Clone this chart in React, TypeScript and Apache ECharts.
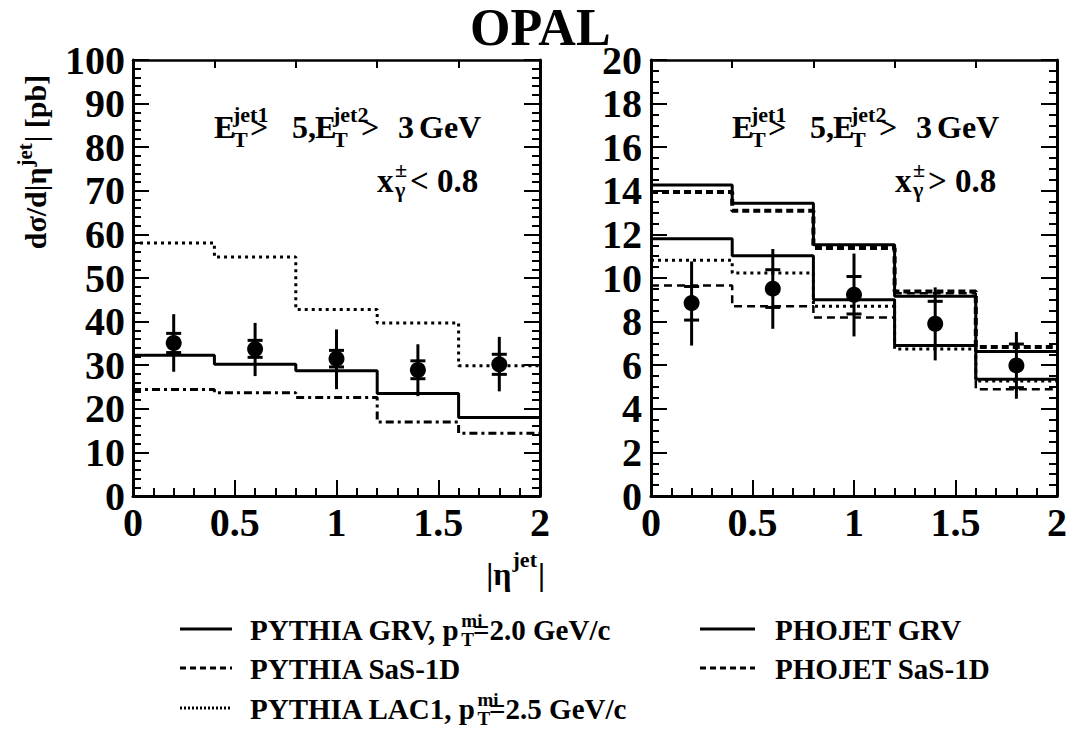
import { useEffect, useRef } from 'react';
import * as echarts from 'echarts';

// ---------------- data ----------------
const binEdges = [0, 0.4, 0.8, 1.2, 1.6, 2.0];
const binCenters = [0.2, 0.6, 1.0, 1.4, 1.8];

// left panel: x_gamma < 0.8
const leftPythiaGrv = [32.3, 30.2, 28.7, 23.5, 18.0];
const leftPythiaSas = [24.4, 23.7, 22.6, 17.0, 14.4];
const leftPythiaLac = [58.0, 54.8, 42.8, 39.7, 29.9];
const leftData = [35.1, 33.7, 31.5, 28.9, 30.2];
const leftStatLow = [32.9, 31.8, 29.6, 26.9, 27.9];
const leftStatHigh = [37.3, 35.7, 33.4, 31.0, 32.5];
const leftTotLow = [28.5, 27.5, 24.5, 22.9, 24.0];
const leftTotHigh = [41.7, 39.7, 38.2, 34.8, 36.5];

// right panel: x_gamma > 0.8
const rightPhojetGrv = [14.27, 13.43, 11.52, 9.16, 6.63];
const rightPhojetSas = [13.95, 13.09, 11.38, 9.38, 6.83];
const rightPythiaGrv = [11.8, 11.02, 9.0, 6.9, 5.36];
const rightPythiaSas = [9.66, 8.7, 8.19, 9.3, 4.9];
const rightPythiaLac = [10.81, 10.23, 8.7, 6.74, 5.27];
const rightData = [8.85, 9.51, 9.23, 7.9, 5.99];
const rightStatLow = [8.07, 8.65, 8.35, 6.9, 4.97];
const rightStatHigh = [9.61, 10.38, 10.07, 8.93, 6.97];
const rightTotLow = [6.9, 7.67, 7.32, 6.22, 4.46];
const rightTotHigh = [10.76, 11.33, 11.12, 9.57, 7.52];

const modelNames = ['PYTHIA GRV', 'PYTHIA SaS-1D', 'PYTHIA LAC1', 'PHOJET GRV', 'PHOJET SaS-1D'];
const legendTexts = [
  { main: 'PYTHIA GRV, p', sup: 'mi', sub: 'T', tail: '=2.0 GeV/c' },
  { main: 'PYTHIA SaS-1D' },
  { main: 'PYTHIA LAC1, p', sup: 'mi', sub: 'T', tail: '=2.5 GeV/c' },
  { main: 'PHOJET GRV' },
  { main: 'PHOJET SaS-1D' },
];
const cutTexts = ['< 0.8', '> 0.8'];

// ---------------- styling ----------------
const FONT = 'Liberation Serif, Times New Roman, serif';
const BLACK = '#000';

const styleSolid = { color: BLACK, width: 3, type: 'solid' as any };
const styleDashDot = { color: BLACK, width: 3, type: [8, 4, 3, 4] as any };
const styleDashThin = { color: BLACK, width: 2.5, type: [8, 5] as any };
const styleDotted = { color: BLACK, width: 3, type: [3, 4] as any };
const styleDashThick = { color: BLACK, width: 4, type: [7, 4] as any };

let measureCtx: CanvasRenderingContext2D | null = null;
function tw(t: string, s: number) {
  if (!measureCtx) measureCtx = document.createElement('canvas').getContext('2d');
  measureCtx!.font = `bold ${s}px ${FONT}`;
  return measureCtx!.measureText(t).width;
}

function txt(text: string, x: number, baseline: number, size: number) {
  return {
    type: 'text',
    x,
    y: baseline - 0.34 * size,
    silent: true,
    style: {
      text,
      font: `bold ${size}px ${FONT}`,
      fill: BLACK,
      textAlign: 'left',
      textVerticalAlign: 'middle',
    },
  };
}

function stepData(vals: number[]) {
  const d = vals.map((v, i) => [binEdges[i], v]);
  d.push([binEdges[binEdges.length - 1], vals[vals.length - 1]]);
  return d;
}

function stepSeries(name: string, vals: number[], ax: number, lineStyle: any) {
  return {
    name,
    type: 'line',
    step: 'end',
    xAxisIndex: ax,
    yAxisIndex: ax,
    data: stepData(vals),
    symbol: 'none',
    showSymbol: false,
    lineStyle,
    silent: true,
    z: 2,
  };
}

function errorSeries(ax: number, totLo: number[], totHi: number[], stLo: number[], stHi: number[]) {
  return {
    type: 'custom',
    xAxisIndex: ax,
    yAxisIndex: ax,
    silent: true,
    z: 3,
    encode: { x: 0, y: [1, 2, 3, 4] },
    data: binCenters.map((x, i) => [x, totLo[i], totHi[i], stLo[i], stHi[i]]),
    renderItem: (_p: any, api: any) => {
      const x = api.value(0);
      const a = api.coord([x, api.value(1)]);
      const b = api.coord([x, api.value(2)]);
      const c = api.coord([x, api.value(3)]);
      const d = api.coord([x, api.value(4)]);
      const st = { stroke: BLACK, lineWidth: 3 };
      return {
        type: 'group',
        children: [
          { type: 'line', shape: { x1: a[0], y1: a[1], x2: b[0], y2: b[1] }, style: st },
          { type: 'line', shape: { x1: c[0] - 7.5, y1: c[1], x2: c[0] + 7.5, y2: c[1] }, style: st },
          { type: 'line', shape: { x1: d[0] - 7.5, y1: d[1], x2: d[0] + 7.5, y2: d[1] }, style: st },
        ],
      };
    },
  };
}

function pointSeries(ax: number, vals: number[]) {
  return {
    name: 'OPAL data',
    type: 'scatter',
    xAxisIndex: ax,
    yAxisIndex: ax,
    data: binCenters.map((x, i) => [x, vals[i]]),
    symbol: 'circle',
    symbolSize: 16,
    itemStyle: { color: BLACK, opacity: 1 },
    silent: true,
    z: 4,
  };
}

const axisLine = { show: true, onZero: false, lineStyle: { color: BLACK, width: 3 } };
const labelStyle = { fontFamily: FONT, fontWeight: 'bold', fontSize: 40, color: BLACK };

function xBottom(grid: number) {
  return {
    type: 'value', gridIndex: grid, position: 'bottom', min: 0, max: 2, interval: 0.5,
    axisLine,
    axisTick: { show: true, inside: true, length: 16, lineStyle: { color: BLACK, width: 2 } },
    minorTick: { show: true, splitNumber: 5, length: 8, lineStyle: { color: BLACK, width: 2 } },
    splitLine: { show: false },
    axisLabel: { ...labelStyle, margin: 6, formatter: (v: number) => String(v) },
  };
}
function xTop(grid: number) {
  return {
    type: 'value', gridIndex: grid, position: 'top', min: 0, max: 2, interval: 0.4,
    axisLine: { ...axisLine, lineStyle: { color: BLACK, width: 2.5 } },
    axisTick: { show: true, inside: true, length: 8, lineStyle: { color: BLACK, width: 2 } },
    splitLine: { show: false },
    axisLabel: { show: false },
  };
}
function yAxis(grid: number, pos: string, max: number, interval: number, minor: number, labels: boolean, margin: number) {
  return {
    type: 'value', gridIndex: grid, position: pos, min: 0, max, interval,
    axisLine,
    axisTick: { show: true, inside: true, length: 16, lineStyle: { color: BLACK, width: 2 } },
    minorTick: { show: true, splitNumber: minor, length: 8, lineStyle: { color: BLACK, width: 2 } },
    splitLine: { show: false },
    axisLabel: labels ? { ...labelStyle, margin } : { show: false },
  };
}

// ---- annotation builders ----
function etLabel(x0: number) {
  const M = 32, S = 22, base = 138, supB = 122, subB = 147;
  return [
    txt('E', x0 + 81, base, M),
    txt('jet1', x0 + 100, supB, S),
    txt('T', x0 + 100, subB, S),
    txt('>', x0 + 117, base, M),
    txt('5,', x0 + 159, base, M),
    txt('E', x0 + 182, base, M),
    txt('jet2', x0 + 200, supB, S),
    txt('T', x0 + 200, subB, S),
    txt('>', x0 + 228, base, M),
    txt('3', x0 + 265, base, M),
    txt('GeV', x0 + 286, base, M),
  ];
}
function xgLabel(x0: number, cut: string) {
  const M = 33, S = 22, base = 192;
  return [
    txt('x', x0 + 244, base, M),
    txt('±', x0 + 262, 177, S),
    txt('γ', x0 + 262, 197, S),
    txt(cut, x0 + 277, base, M),
  ];
}
function yTitle() {
  const M = 30, S = 21;
  const p1 = 'dσ/d|η', p2 = 'jet', p3 = '| [pb]';
  const w1 = tw(p1, M), w2 = tw(p2, S), w3 = tw(p3, M);
  const total = w1 + w2 + w3 + 2;
  return {
    type: 'group',
    x: 46,
    y: 162 + total / 2,
    rotation: Math.PI / 2,
    silent: true,
    children: [
      txt(p1, 0, 0, M),
      txt(p2, w1 + 1, -14, S),
      txt(p3, w1 + w2 + 2, 0, M),
    ],
  };
}
function xTitle() {
  const M = 32, S = 22;
  const p1 = '|η', p2 = 'jet', p3 = '|';
  const w1 = tw(p1, M), w2 = tw(p2, S), w3 = tw(p3, M);
  const x0 = 545 - (w1 + w2 + w3 + 2);
  return [txt(p1, x0, 585, M), txt(p2, x0 + w1 + 1, 567, S), txt(p3, x0 + w1 + w2 + 2, 585, M)];
}
function legendRow(e: any, x: number, baseline: number) {
  const M = 29, S = 19;
  const els: any[] = [txt(e.main, x, baseline, M)];
  if (e.sup) {
    const w = tw(e.main, M);
    els.push(txt(e.sup, x + w + 1, baseline - 13, S));
    els.push(txt(e.sub, x + w + 1, baseline + 6, S));
    els.push(txt(e.tail, x + w + tw(e.sub, S), baseline, M));
  }
  return els;
}
function legendLine(x1: number, x2: number, y: number, ls: any) {
  return {
    type: 'line', silent: true,
    shape: { x1, y1: y, x2, y2: y },
    style: { stroke: BLACK, lineWidth: ls.width, lineDash: Array.isArray(ls.type) ? ls.type : null },
  };
}

function buildOption() {
  const legendStyles = [styleSolid, { ...styleDashThin, width: 3, type: [6, 4] }, { ...styleDotted, type: [2, 2] }, styleSolid, { ...styleDashThin, width: 3, type: [6, 4] }];
  const rows = [629, 668, 708, 629, 668];
  const graphic: any[] = [
    ...etLabel(133),
    ...etLabel(651),
    ...xgLabel(133, cutTexts[0]),
    ...xgLabel(651, cutTexts[1]),
    yTitle(),
    ...xTitle(),
  ];
  legendTexts.forEach((e, i) => {
    const right = i >= 3;
    const lx = right ? 700 : 180, lx2 = right ? 755 : 232, tx = right ? 775 : 250;
    graphic.push(legendLine(lx, lx2, rows[i], legendStyles[i]));
    graphic.push(...legendRow(e, tx, rows[i] + 11));
  });

  return {
    animation: false,
    backgroundColor: '#fff',
    title: {
      text: 'OPAL', left: 470, top: 1, padding: 0,
      textStyle: { fontFamily: FONT, fontWeight: 'bold', fontSize: 52, color: BLACK },
    },
    grid: [
      { left: 133, top: 60, width: 407, height: 436 },
      { left: 651, top: 60, width: 406, height: 436 },
    ],
    xAxis: [xBottom(0), xTop(0), xBottom(1), xTop(1)],
    yAxis: [
      yAxis(0, 'left', 100, 10, 5, true, 8),
      yAxis(0, 'right', 100, 10, 5, false, 8),
      yAxis(1, 'left', 20, 2, 4, true, 9),
      yAxis(1, 'right', 20, 2, 4, false, 9),
    ],
    series: [
      stepSeries(modelNames[0], leftPythiaGrv, 0, styleSolid),
      stepSeries(modelNames[1], leftPythiaSas, 0, styleDashDot),
      stepSeries(modelNames[2], leftPythiaLac, 0, styleDotted),
      errorSeries(0, leftTotLow, leftTotHigh, leftStatLow, leftStatHigh),
      pointSeries(0, leftData),
      { ...stepSeries(modelNames[3], rightPhojetGrv, 2, styleSolid), yAxisIndex: 2 },
      { ...stepSeries(modelNames[4], rightPhojetSas, 2, styleDashThick), yAxisIndex: 2 },
      { ...stepSeries(modelNames[0], rightPythiaGrv, 2, styleSolid), yAxisIndex: 2 },
      { ...stepSeries(modelNames[1], rightPythiaSas, 2, styleDashThin), yAxisIndex: 2 },
      { ...stepSeries(modelNames[2], rightPythiaLac, 2, styleDotted), yAxisIndex: 2 },
      { ...errorSeries(2, rightTotLow, rightTotHigh, rightStatLow, rightStatHigh), yAxisIndex: 2 },
      { ...pointSeries(2, rightData), yAxisIndex: 2 },
    ],
    graphic,
  };
}

export default function App() {
  const ref = useRef<HTMLDivElement>(null);
  useEffect(() => {
    const chart = echarts.init(ref.current!, null, { renderer: 'svg' });
    chart.setOption(buildOption() as any);
    return () => chart.dispose();
  }, []);
  return (
    <div
      ref={ref}
      style={{ position: 'fixed', left: 0, top: 0, width: 1070, height: 735, background: '#fff' }}
    />
  );
}
